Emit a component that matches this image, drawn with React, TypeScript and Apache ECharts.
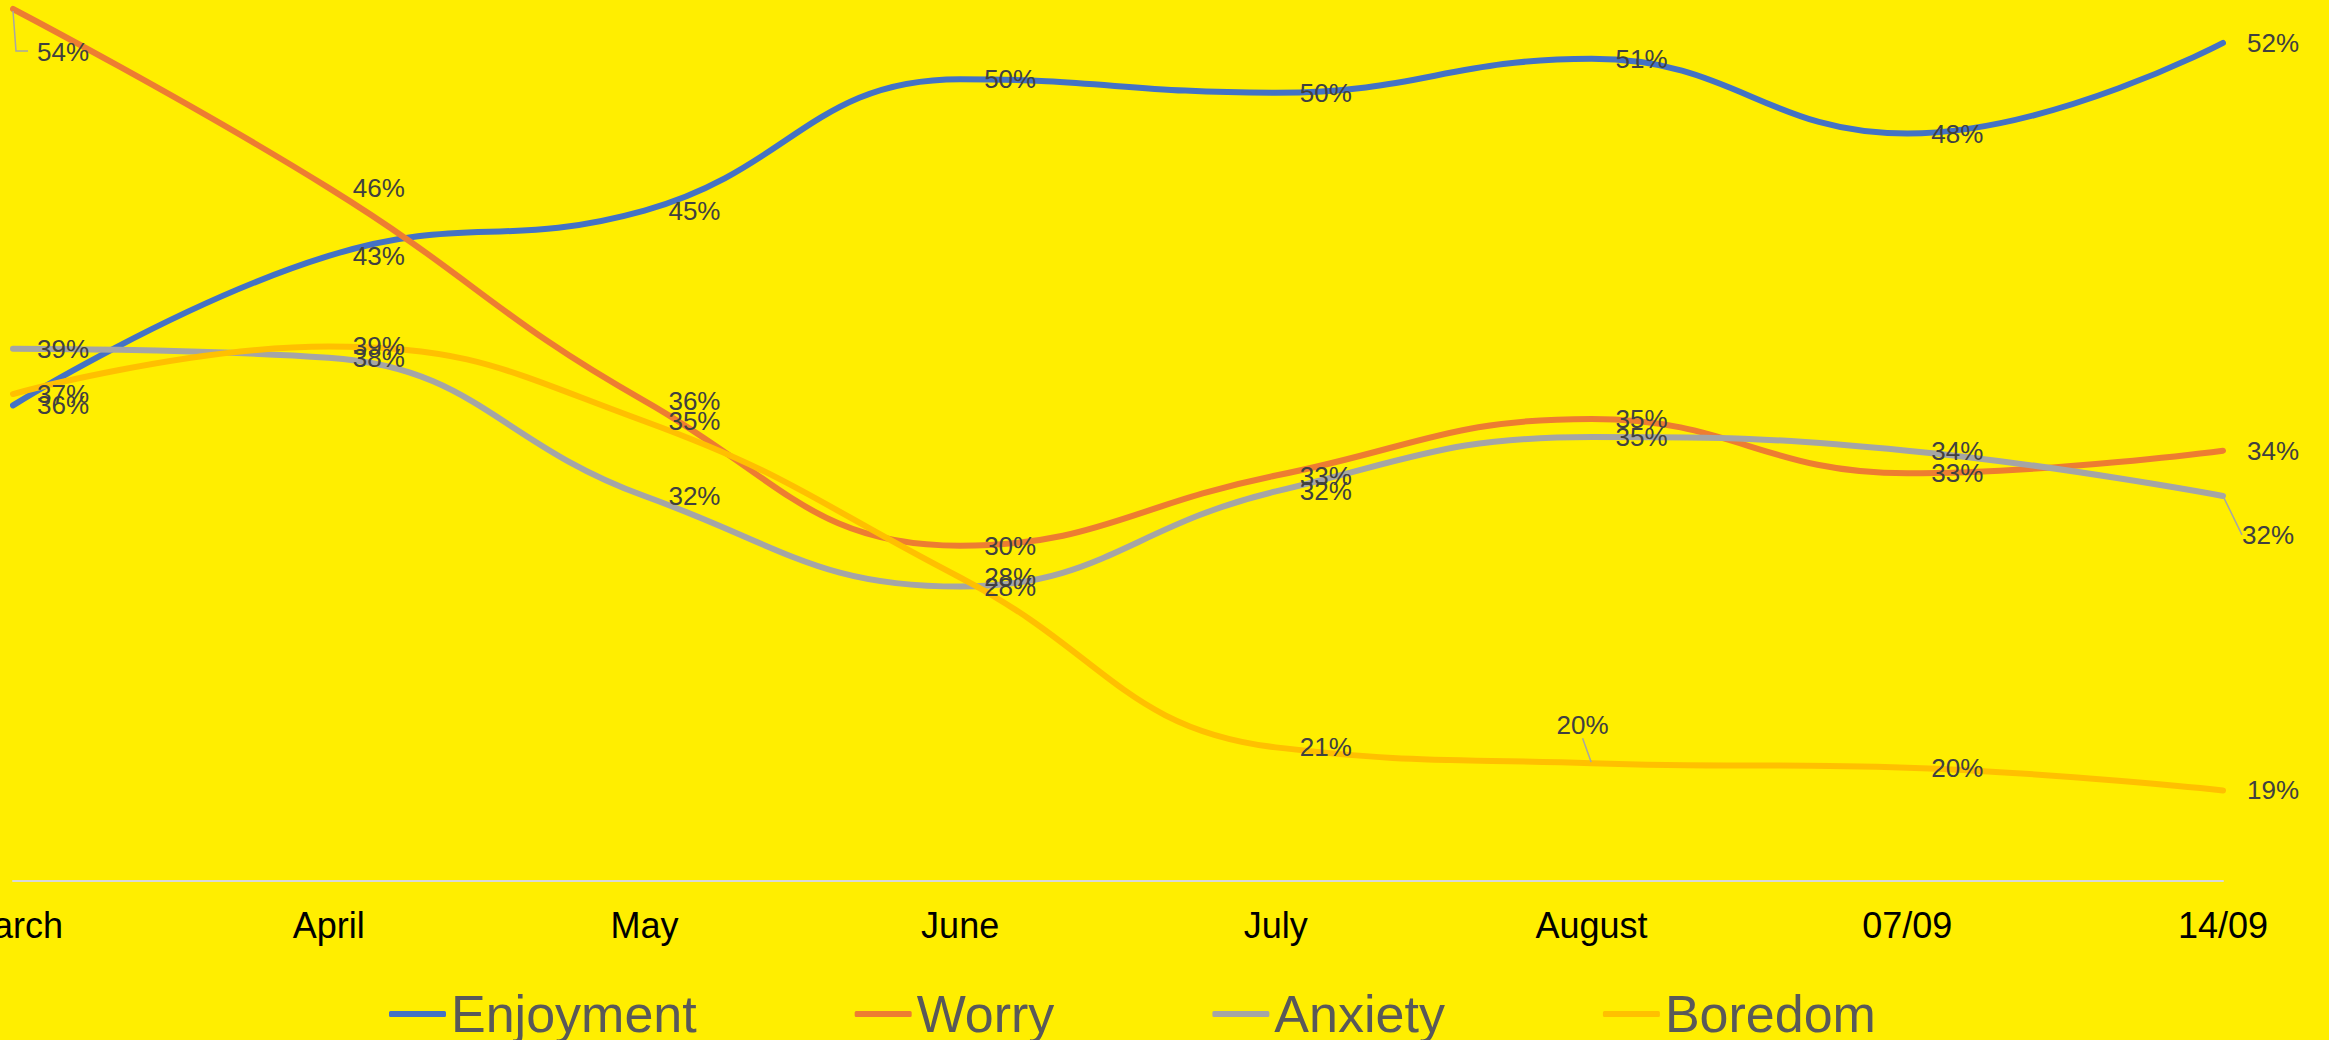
import React, { useEffect, useRef } from "react";
import * as echarts from "echarts";

const categories = ["March", "April", "May", "June", "July", "August", "07/09", "14/09"];
const enjoyment = [36.0, 42.6, 44.6, 50.4, 49.8, 51.3, 48.0, 52.0];
const worry = [53.5, 45.6, 36.2, 29.8, 32.9, 35.4, 33.0, 34.0];
const anxiety = [38.5, 38.1, 32.0, 28.0, 32.2, 34.6, 34.0, 32.0];
const boredom = [36.5, 38.6, 35.3, 28.4, 20.9, 20.2, 20.0, 19.0];

const seriesNames = ["Enjoyment", "Worry", "Anxiety", "Boredom"];
const seriesColors = ["#4472C4", "#ED7D31", "#A5A5A5", "#FFC000"];
const seriesData = [enjoyment, worry, anxiety, boredom];

// manual label offsets (seriesIndex -> dataIndex -> [dx, dy])
const labelMoves: Record<number, Record<number, [number, number]>> = {
  1: { 0: [0, 43] },
  2: { 7: [-5, 39] },
  3: { 5: [-59, -38] },
};
// labels whose leader is drawn as an elbow instead of a straight guide
const elbowLeaders: [number, number][] = [[1, 0]];

const FONT = "'Liberation Sans', Arial, sans-serif";
const LEADER = { stroke: "#A6A6A6", lineWidth: 1.5, fill: "none" };

export default function App() {
  const ref = useRef<HTMLDivElement>(null);
  useEffect(() => {
    if (!ref.current) return;
    const chart = echarts.init(ref.current, undefined, { renderer: "svg" });
    const series = seriesNames.map((name, si) => {
      const moves = labelMoves[si] || {};
      return {
        name,
        type: "line",
        smooth: 0.45,
        symbol: "circle",
        symbolSize: 2,
        showSymbol: true,
        clip: false,
        lineStyle: { color: seriesColors[si], width: 6, cap: "round" },
        itemStyle: { color: seriesColors[si] },
        label: {
          show: true,
          position: "right",
          distance: 23,
          fontSize: 26,
          color: "#404040",
          fontFamily: FONT,
          formatter: (p: any) => Math.round(p.value) + "%",
        },
        labelLayout: (params: any) => {
          const m = moves[params.dataIndex];
          if (m) return { dx: m[0], dy: m[1] };
          return {};
        },
        emphasis: { disabled: true },
        data: seriesData[si].map((v, di) => {
          const moved = !!moves[di];
          const elbow = elbowLeaders.some(([s, d]) => s === si && d === di);
          return {
            value: v,
            labelLine: {
              show: moved && !elbow,
              lineStyle: { color: "#A6A6A6", width: 1.5 },
            },
          };
        }),
      };
    });
    chart.setOption({
      animation: false,
      backgroundColor: "#FFEE00",
      textStyle: { fontFamily: FONT },
      grid: {
        left: 13,
        right: 106,
        top: -25,
        bottom: 159,
        containLabel: false,
        outerBoundsMode: "none",
      },
      legend: {
        data: seriesNames,
        left: 384,
        top: 983,
        icon: "roundRect",
        itemWidth: 57,
        itemHeight: 6,
        itemGap: 158,
        textStyle: { fontSize: 52, color: "#595959", fontFamily: FONT },
      },
      xAxis: {
        type: "category",
        data: categories,
        boundaryGap: false,
        axisLine: { show: true, lineStyle: { color: "#D9D9D9", width: 2 } },
        axisTick: { show: false },
        axisLabel: { fontSize: 36, color: "#000000", margin: 26, fontFamily: FONT, interval: 0 },
        splitLine: { show: false },
      },
      yAxis: {
        type: "value",
        min: 15,
        max: 55,
        show: false,
        splitLine: { show: false },
      },
      series,
    });
    // elbow leader lines, anchored on the data point through the chart's scales
    const graphics = elbowLeaders.map(([si, di]) => {
      const p = chart.convertToPixel({ seriesIndex: si }, [di, seriesData[si][di]]) as number[];
      const m = labelMoves[si][di];
      const ly = p[1] + m[1] - 1;
      return {
        type: "polyline",
        shape: { points: [[p[0], p[1] + 2], [p[0] + 3, ly], [p[0] + 15, ly]] },
        style: LEADER,
        silent: true,
        z: 10,
      };
    });
    chart.setOption({ graphic: graphics });
    return () => chart.dispose();
  }, []);
  return (
    <div
      ref={ref}
      style={{ position: "fixed", left: 0, top: 0, width: 2329, height: 1040 }}
    />
  );
}
